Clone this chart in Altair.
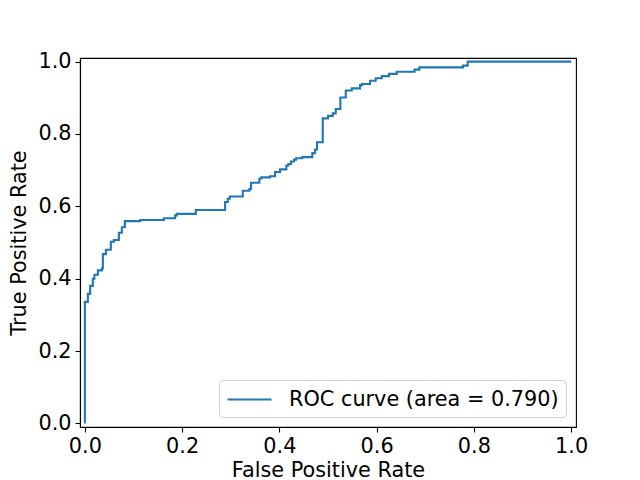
import altair as alt
import pandas as pd

fpr = [0.0, 0.0, 0.0062, 0.0109, 0.0164, 0.0197, 0.0267, 0.0349, 0.037, 0.0432,
       0.0534, 0.0596, 0.0699, 0.076, 0.0822, 0.1137, 0.1624, 0.1856, 0.1891, 0.2282,
       0.2884, 0.2939, 0.298, 0.3248, 0.3383, 0.3418, 0.3589, 0.363, 0.3809, 0.3912,
       0.4014, 0.4144, 0.4185, 0.424, 0.4302, 0.4343, 0.4473, 0.4678, 0.4734, 0.4775,
       0.4892, 0.5001, 0.5098, 0.5159, 0.5254, 0.5365, 0.5488, 0.5659, 0.57, 0.5864,
       0.5981, 0.6105, 0.6255, 0.6413, 0.678, 0.6878, 0.7776, 0.7873, 1.0]
tpr = [0.0, 0.336, 0.358, 0.380, 0.400, 0.411, 0.423, 0.428, 0.468, 0.480,
       0.502, 0.507, 0.527, 0.542, 0.559, 0.562, 0.567, 0.575, 0.579, 0.590,
       0.612, 0.621, 0.627, 0.643, 0.648, 0.665, 0.677, 0.680, 0.683, 0.695,
       0.702, 0.713, 0.717, 0.724, 0.729, 0.733, 0.736, 0.747, 0.757, 0.777,
       0.843, 0.850, 0.857, 0.869, 0.901, 0.920, 0.926, 0.935, 0.938, 0.947,
       0.954, 0.960, 0.966, 0.972, 0.978, 0.984, 0.989, 1.0, 1.0]
label = "ROC curve (area = 0.790)"
ticks = [0.0, 0.2, 0.4, 0.6, 0.8, 1.0]

df = pd.DataFrame({"fpr": fpr, "tpr": tpr, "series": [label] * len(fpr), "order": list(range(len(fpr)))})

FONT = "DejaVu Sans"
FS = 20.8

axis_common = dict(
    values=ticks, format=".1f", grid=False, tickSize=5, tickWidth=1.1,
    tickColor="black", domainColor="black", domainWidth=1.1,
    labelFontSize=FS, labelFont=FONT, labelColor="black", labelPadding=4,
    titleFontSize=FS, titleFont=FONT, titleFontWeight="normal", titleColor="black",
)

chart = alt.Chart(df).mark_line(interpolate="step-after", strokeWidth=2.1).encode(
    x=alt.X("fpr:Q", scale=alt.Scale(domain=[-0.01, 1.01], nice=False, zero=False),
            axis=alt.Axis(title="False Positive Rate", titleY=49.5, titleBaseline="alphabetic",
                          **axis_common)),
    y=alt.Y("tpr:Q", scale=alt.Scale(domain=[-0.01, 1.01], nice=False, zero=False),
            axis=alt.Axis(title="True Positive Rate", titlePadding=8, **axis_common)),
    order="order:Q",
    color=alt.Color("series:N", scale=alt.Scale(range=["#1f77b4"]),
                    legend=alt.Legend(title=None, orient="bottom-right", offset=10,
                                      symbolType="M-1,0H3", symbolSize=484, symbolStrokeWidth=2.1,
                                      labelFontSize=FS, labelFont=FONT, labelColor="black",
                                      labelLimit=500, labelOffset=38,
                                      padding=7, cornerRadius=4,
                                      strokeColor="#d0d0d0", fillColor="rgba(255,255,255,0.8)")),
).properties(
    width=496, height=369,
    autosize=alt.AutoSizeParams(type="none"),
    padding={"left": 72, "top": 50, "right": 56, "bottom": 54},
).configure_view(stroke="black", strokeWidth=1.1)

chart.save("out.html", embed_options={"renderer": "svg", "actions": False})
